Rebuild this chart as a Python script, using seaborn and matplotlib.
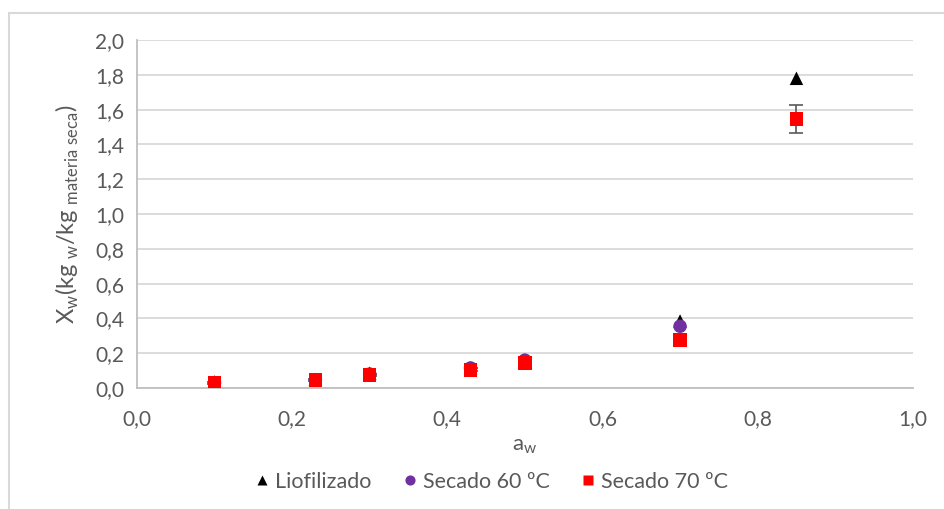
import matplotlib
matplotlib.use("Agg")
import matplotlib.pyplot as plt
import seaborn as sns
import pandas as pd
from matplotlib.ticker import FuncFormatter
from matplotlib.patches import Rectangle

# data
aw_all = [0.10, 0.23, 0.30, 0.43, 0.50, 0.70, 0.85]
liofilizado = [0.035, 0.050, 0.085, 0.115, 0.160, 0.385, 1.780]
aw_60 = [0.10, 0.23, 0.30, 0.43, 0.50, 0.70]
secado_60 = [0.030, 0.045, 0.080, 0.115, 0.160, 0.355]
secado_70 = [0.030, 0.045, 0.075, 0.105, 0.145, 0.275, 1.545]
err_70 = [0.005, 0.005, 0.008, 0.008, 0.008, 0.012, 0.080]

series_names = ["Liofilizado", "Secado 60 ºC", "Secado 70 ºC"]

df = pd.concat([
    pd.DataFrame({"aw": aw_all, "X": liofilizado, "serie": series_names[0]}),
    pd.DataFrame({"aw": aw_60, "X": secado_60, "serie": series_names[1]}),
    pd.DataFrame({"aw": aw_all, "X": secado_70, "serie": series_names[2]}),
])

sns.set_style("white")
plt.rcParams["font.family"] = ["Lato", "DejaVu Sans"]
plt.rcParams["mathtext.fontset"] = "custom"
plt.rcParams["mathtext.rm"] = "Lato"
text_color = "#595959"
grid_color = "#d9d9d9"

fig = plt.figure(figsize=(9.44, 5.09), dpi=100)
ax = fig.add_axes([0.145, 0.2377, 0.822, 0.6837])

# error bars for the 70 ºC series
ax.errorbar(aw_all, secado_70, yerr=err_70, fmt="none", ecolor="#595959",
            elinewidth=1.2, capsize=5, capthick=1.2, zorder=2)

sns.scatterplot(data=df, x="aw", y="X", hue="serie", style="serie",
                palette={series_names[0]: "black", series_names[1]: "#7030a0",
                         series_names[2]: "#ff0000"},
                markers={series_names[0]: "^", series_names[1]: "o",
                         series_names[2]: "s"},
                s=95, edgecolor="none", ax=ax, zorder=3)

ax.set_xlim(0, 1.0)
ax.set_ylim(0, 2.0)
ax.set_xticks([i / 5 for i in range(6)])
ax.set_yticks([i / 5 for i in range(11)])
fmt = FuncFormatter(lambda v, p: f"{v:.1f}".replace(".", ","))
ax.xaxis.set_major_formatter(fmt)
ax.yaxis.set_major_formatter(fmt)
ax.tick_params(colors=text_color, labelsize=15, length=0, pad=9)
ax.tick_params(axis="x", pad=15)

ax.yaxis.grid(True, color=grid_color, linewidth=1.3)
ax.xaxis.grid(False)
ax.set_axisbelow(True)
for side in ["top", "right"]:
    ax.spines[side].set_visible(False)
for side in ["left", "bottom"]:
    ax.spines[side].set_color("#bfbfbf")
    ax.spines[side].set_linewidth(1.3)

ax.set_xlabel(r"a$_\mathregular{w}$", color=text_color, fontsize=16, labelpad=5)
ax.set_ylabel(r"X$_\mathregular{w}$(kg$_\mathregular{\ w}$/kg$_\mathregular{\ materia\ seca}$)",
              color=text_color, fontsize=17, labelpad=10)

leg = ax.legend(loc="upper center", bbox_to_anchor=(0.453, -0.185), ncol=3,
                frameon=False, fontsize=15.5, handletextpad=0.0,
                handlelength=1.2, columnspacing=1.2, markerscale=0.75)
for t in leg.get_texts():
    t.set_color(text_color)

# outer chart border
fig.patches.append(Rectangle((9 / 944, -0.1), 1.1, 1 - 13 / 509 + 0.1,
                             transform=fig.transFigure, fill=False,
                             edgecolor="#d9d9d9", linewidth=1.5))

plt.savefig("out.png", dpi=100)
plt.close()
